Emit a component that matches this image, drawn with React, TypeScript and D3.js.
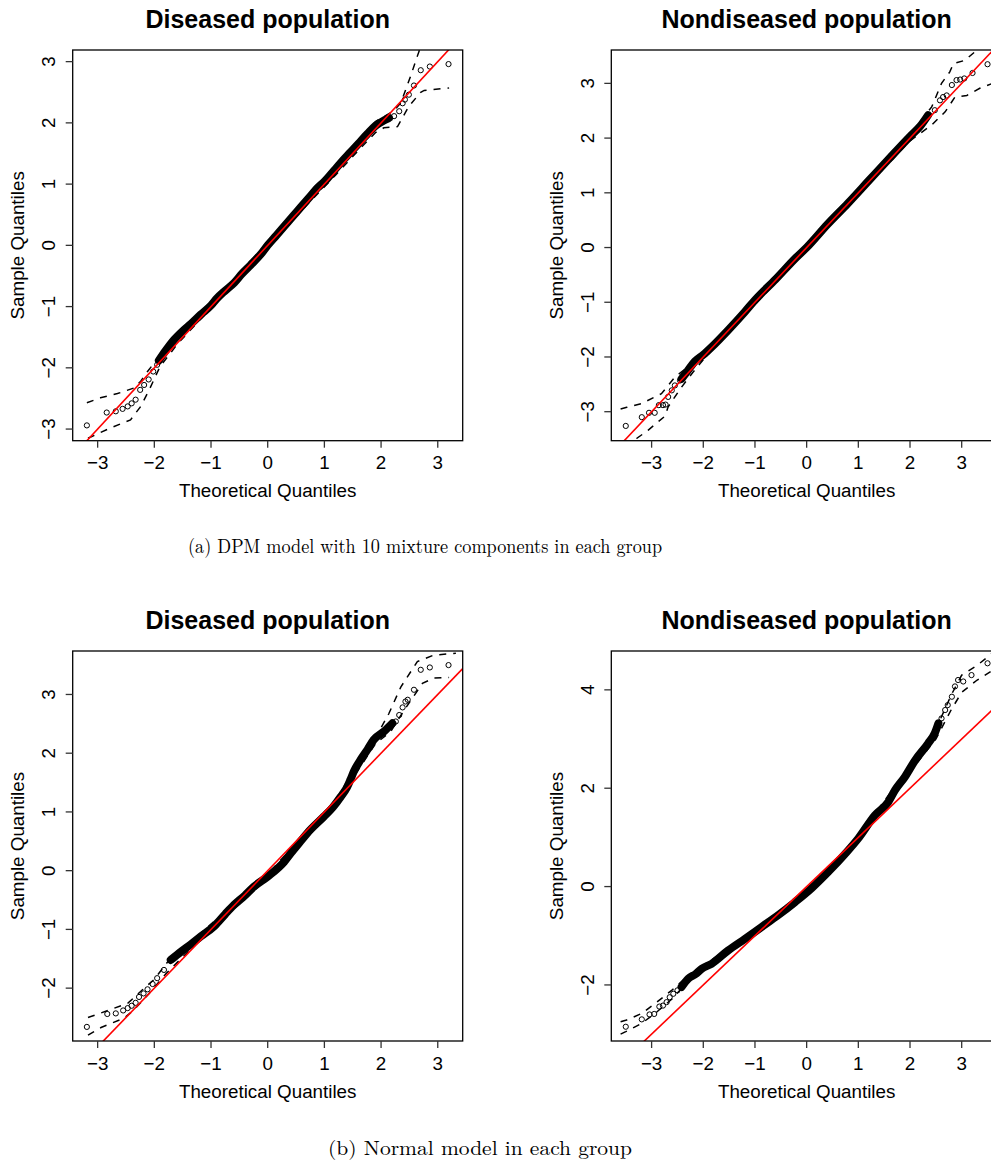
import React from "react";
import * as d3 from "d3";

// ---------- data ----------
// Panel A: DPM model, Diseased population
const dpmDiseasedTail: [number, number][] = [
  [-3.19, -2.94], [-2.84, -2.73], [-2.68, -2.71], [-2.56, -2.67], [-2.47, -2.63], [-2.40, -2.58],
  [-2.33, -2.52], [-2.25, -2.36], [-2.18, -2.28], [-2.10, -2.19], [-2.02, -2.06], [-1.95, -1.95],
  [-1.89, -1.84],
  [2.14, 2.08], [2.23, 2.11], [2.32, 2.19], [2.38, 2.32], [2.42, 2.38], [2.49, 2.46], [2.58, 2.61],
  [2.70, 2.86], [2.86, 2.92], [3.19, 2.96],
];
const dpmDiseasedBand: [number, number][] = [
  [-1.92, -1.88], [-1.80, -1.72], [-1.65, -1.54], [-1.50, -1.40], [-1.35, -1.28], [-1.18, -1.13],
  [-1.0, -0.98], [-0.89, -0.86], [-0.75, -0.74], [-0.59, -0.61], [-0.45, -0.46], [-0.30, -0.32],
  [-0.10, -0.12], [0.0, 0.0], [0.15, 0.16], [0.29, 0.31], [0.45, 0.48], [0.58, 0.62], [0.75, 0.80],
  [0.88, 0.94], [1.0, 1.04], [1.17, 1.22], [1.30, 1.36], [1.46, 1.52], [1.60, 1.66], [1.76, 1.82],
  [1.90, 1.95], [2.05, 2.04], [2.14, 2.08],
];
const dpmDiseasedEnvUpper: [number, number][] = [
  [-3.19, -2.57], [-2.95, -2.49], [-2.65, -2.42], [-2.36, -2.33], [-2.24, -2.22], [-2.12, -2.06],
  [-1.9, -1.8], [-1.6, -1.47], [-1.2, -1.1], [-0.6, -0.56], [0, 0.05], [0.6, 0.66], [1.2, 1.27],
  [1.6, 1.71], [1.9, 2.02], [2.23, 2.2], [2.35, 2.33], [2.52, 2.76], [2.64, 3.09], [2.72, 3.3],
];
const dpmDiseasedEnvLower: [number, number][] = [
  [-3.17, -3.15], [-2.77, -2.98], [-2.42, -2.85], [-2.24, -2.63], [-2.09, -2.36], [-1.9, -1.98],
  [-1.6, -1.62], [-1.2, -1.22], [-0.6, -0.66], [0, -0.05], [0.6, 0.57], [1.2, 1.15], [1.6, 1.55],
  [1.9, 1.84], [2.05, 1.92], [2.29, 1.94], [2.49, 2.27], [2.7, 2.5], [2.76, 2.53], [3.20, 2.57],
];

// Panel B: DPM model, Nondiseased population
const dpmNondiseasedTail: [number, number][] = [
  [-3.50, -3.26], [-3.19, -3.10], [-3.05, -3.02], [-2.94, -3.02], [-2.86, -2.88], [-2.78, -2.88],
  [-2.73, -2.87], [-2.68, -2.73], [-2.61, -2.61], [-2.55, -2.52], [-2.45, -2.43],
  [2.35, 2.42], [2.48, 2.51], [2.58, 2.69], [2.64, 2.75], [2.71, 2.78], [2.81, 2.97], [2.90, 3.06],
  [2.97, 3.07], [3.05, 3.09], [3.21, 3.19], [3.50, 3.35],
];
const dpmNondiseasedBand: [number, number][] = [
  [-2.42, -2.40], [-2.30, -2.25], [-2.16, -2.08], [-2.0, -1.96], [-1.84, -1.82], [-1.52, -1.51],
  [-1.2, -1.18], [-1.0, -0.96], [-0.6, -0.58], [-0.2, -0.18], [0, 0.0], [0.4, 0.42], [0.8, 0.81],
  [1.2, 1.22], [1.6, 1.63], [2.0, 2.03], [2.2, 2.22], [2.35, 2.42],
];
const dpmNondiseasedEnvUpper: [number, number][] = [
  [-3.6, -2.95], [-3.48, -2.92], [-3.19, -2.85], [-2.81, -2.67], [-2.55, -2.37], [-2.3, -2.18],
  [-2.0, -1.92], [-1.0, -0.95], [0, 0.04], [1, 1.04], [2, 2.06], [2.42, 2.57], [2.61, 3.0],
  [2.77, 3.21], [2.84, 3.36], [3.06, 3.42], [3.26, 3.58], [3.4, 3.7],
];
const dpmNondiseasedEnvLower: [number, number][] = [
  [-3.45, -3.7], [-3.29, -3.49], [-3.07, -3.34], [-2.74, -3.08], [-2.68, -2.91], [-2.42, -2.55],
  [-2.2, -2.28], [-2.0, -2.05], [-1, -1.04], [0, -0.04], [1, 0.96], [2, 1.95], [2.42, 2.24],
  [2.68, 2.48], [2.87, 2.75], [3.10, 2.78], [3.35, 2.91], [3.6, 3.0],
];

// Panel C: Normal model, Diseased population
const normDiseasedTail: [number, number][] = [
  [-3.19, -2.66], [-2.83, -2.44], [-2.68, -2.43], [-2.55, -2.38], [-2.47, -2.34], [-2.40, -2.30],
  [-2.33, -2.25], [-2.27, -2.15], [-2.19, -2.09], [-2.12, -2.02], [-2.03, -1.93], [-1.95, -1.83],
  [-1.83, -1.69], [-1.71, -1.52],
  [2.26, 2.54], [2.32, 2.65], [2.38, 2.78], [2.43, 2.88], [2.47, 2.91], [2.58, 3.08], [2.70, 3.42],
  [2.86, 3.46], [3.19, 3.50],
];
const normDiseasedBand: [number, number][] = [
  [-1.71, -1.52], [-1.53, -1.38], [-1.35, -1.25], [-1.18, -1.12], [-0.95, -0.95], [-0.75, -0.74],
  [-0.59, -0.58], [-0.4, -0.42], [-0.24, -0.27], [0, -0.10], [0.29, 0.15], [0.41, 0.30],
  [0.58, 0.50], [0.70, 0.64], [0.99, 0.92], [1.15, 1.08], [1.29, 1.26], [1.40, 1.42], [1.46, 1.55],
  [1.52, 1.69], [1.64, 1.89], [1.76, 2.06], [1.87, 2.23], [2.05, 2.37], [2.20, 2.51],
];
const normDiseasedEnvUpper: [number, number][] = [
  [-3.17, -2.50], [-2.76, -2.36], [-2.47, -2.26], [-2.2, -2.02], [-2.0, -1.85], [-1.7, -1.47],
  [-1.2, -1.08], [0, -0.06], [1.2, 1.2], [1.6, 1.84], [1.9, 2.26], [2.14, 2.68], [2.35, 3.13],
  [2.64, 3.56], [2.93, 3.67], [3.32, 3.70],
];
const normDiseasedEnvLower: [number, number][] = [
  [-3.17, -2.80], [-2.94, -2.67], [-2.53, -2.51], [-2.36, -2.37], [-2.1, -2.1], [-1.8, -1.76],
  [-1.2, -1.18], [0, -0.13], [1.2, 1.14], [1.6, 1.72], [1.9, 2.16], [2.17, 2.37], [2.4, 2.72],
  [2.73, 3.19], [2.93, 3.28], [3.20, 3.29],
];

// Panel D: Normal model, Nondiseased population
const normNondiseasedTail: [number, number][] = [
  [-3.50, -2.85], [-3.19, -2.70], [-3.04, -2.60], [-2.95, -2.59], [-2.85, -2.44], [-2.78, -2.42],
  [-2.71, -2.35], [-2.65, -2.25], [-2.58, -2.18], [-2.50, -2.11], [-2.42, -2.04],
  [2.55, 3.32], [2.61, 3.42], [2.68, 3.59], [2.73, 3.69], [2.81, 3.86], [2.87, 4.07], [2.93, 4.20],
  [3.03, 4.17], [3.19, 4.30], [3.50, 4.54],
];
const normNondiseasedBand: [number, number][] = [
  [-2.42, -2.04], [-2.29, -1.87], [-2.15, -1.78], [-2.03, -1.67], [-1.84, -1.57], [-1.52, -1.30],
  [-1.19, -1.06], [-0.87, -0.82], [-0.55, -0.58], [-0.23, -0.32], [0.10, -0.03], [0.42, 0.30],
  [0.74, 0.66], [1.0, 0.98], [1.32, 1.45], [1.58, 1.72], [1.71, 1.96], [1.90, 2.23], [2.10, 2.57],
  [2.35, 2.91], [2.48, 3.12], [2.55, 3.32],
];
const normNondiseasedEnvUpper: [number, number][] = [
  [-3.6, -2.75], [-3.5, -2.72], [-3.19, -2.58], [-2.9, -2.35], [-2.6, -2.1], [-2.3, -1.82],
  [-2.0, -1.6], [-1.0, -0.92], [0, -0.1], [1, 1.02], [2, 2.45], [2.5, 3.2], [2.8, 3.9],
  [3.0, 4.3], [3.3, 4.5], [3.6, 4.75],
];
const normNondiseasedEnvLower: [number, number][] = [
  [-3.6, -3.0], [-3.5, -2.95], [-3.19, -2.78], [-2.9, -2.55], [-2.6, -2.28], [-2.3, -1.93],
  [-2.0, -1.7], [-1.0, -0.98], [0, -0.16], [1, 0.94], [2, 2.33], [2.5, 3.0], [2.8, 3.6],
  [3.0, 3.95], [3.3, 4.2], [3.6, 4.4],
];

// reference line y = intercept + slope * x
const refIntercepts = [0, 0, 0, 0];
const refSlopes = [1, 1, 1, 1];

const xTicks = [-3, -2, -1, 0, 1, 2, 3];
const yTicksA = [-3, -2, -1, 0, 1, 2, 3];
const yTicksB = [-3, -2, -1, 0, 1, 2, 3];
const yTicksC = [-2, -1, 0, 1, 2, 3];
const yTicksD = [-2, 0, 2, 4];

const titles = ["Diseased population", "Nondiseased population", "Diseased population", "Nondiseased population"];
const xLabel = "Theoretical Quantiles";
const yLabel = "Sample Quantiles";
const captionA = "(a) DPM model with 10 mixture components in each group";
const captionB = "(b) Normal model in each group";

// ---------- layout ----------
const W = 991;
const H = 1162;
const SANS = "'Liberation Sans', Arial, Helvetica, sans-serif";
const SERIF = "'Latin Modern Roman', 'Liberation Serif', 'Times New Roman', serif";

type Panel = {
  id: string;
  box: [number, number, number, number]; // x0, y0, x1, y1
  xDomain: [number, number];
  yDomain: [number, number];
  yTicks: number[];
  title: string;
  tail: [number, number][];
  band: [number, number][];
  envU: [number, number][];
  envL: [number, number][];
  a: number;
  b: number;
};

const panels: Panel[] = [
  {
    id: "pa", box: [72.7, 50, 462.7, 440.7], xDomain: [-3.44, 3.44], yDomain: [-3.19, 3.19],
    yTicks: yTicksA, title: titles[0], tail: dpmDiseasedTail, band: dpmDiseasedBand,
    envU: dpmDiseasedEnvUpper, envL: dpmDiseasedEnvLower, a: refIntercepts[0], b: refSlopes[0],
  },
  {
    id: "pb", box: [611.3, 50, 1002, 440.7], xDomain: [-3.78, 3.78], yDomain: [-3.53, 3.61],
    yTicks: yTicksB, title: titles[1], tail: dpmNondiseasedTail, band: dpmNondiseasedBand,
    envU: dpmNondiseasedEnvUpper, envL: dpmNondiseasedEnvLower, a: refIntercepts[1], b: refSlopes[1],
  },
  {
    id: "pc", box: [72.7, 651, 462.7, 1041], xDomain: [-3.44, 3.44], yDomain: [-2.9, 3.74],
    yTicks: yTicksC, title: titles[2], tail: normDiseasedTail, band: normDiseasedBand,
    envU: normDiseasedEnvUpper, envL: normDiseasedEnvLower, a: refIntercepts[2], b: refSlopes[2],
  },
  {
    id: "pd", box: [611.3, 651, 1002, 1041], xDomain: [-3.78, 3.78], yDomain: [-3.14, 4.79],
    yTicks: yTicksD, title: titles[3], tail: normNondiseasedTail, band: normNondiseasedBand,
    envU: normNondiseasedEnvUpper, envL: normNondiseasedEnvLower, a: refIntercepts[3], b: refSlopes[3],
  },
];

const fmt = (v: number) => (v < 0 ? "\u2212" + Math.abs(v) : String(v));

function QQPanel({ p }: { p: Panel }) {
  const [x0, y0, x1, y1] = p.box;
  const xs = d3.scaleLinear().domain(p.xDomain).range([x0, x1]);
  const ys = d3.scaleLinear().domain(p.yDomain).range([y1, y0]);
  const line = d3
    .line<[number, number]>()
    .x((d) => xs(d[0]))
    .y((d) => ys(d[1]));
  const smooth = d3
    .line<[number, number]>()
    .x((d) => xs(d[0]))
    .y((d) => ys(d[1]))
    .curve(d3.curveMonotoneX);
  const cx = (x0 + x1) / 2;
  const refPts: [number, number][] = p.xDomain.map((x) => [x, p.a + p.b * x]) as [number, number][];
  const tickLen = 7;
  return (
    <g>
      <defs>
        <clipPath id={`clip-${p.id}`}>
          <rect x={x0} y={y0} width={x1 - x0} height={y1 - y0} />
        </clipPath>
      </defs>
      <text x={cx} y={y0 - 22.5} textAnchor="middle" fontFamily={SANS} fontWeight="bold" fontSize={25} fill="#000">
        {p.title}
      </text>
      <g clipPath={`url(#clip-${p.id})`}>
        <path d={smooth(p.band) || ""} fill="none" stroke="#000" strokeWidth={8} strokeLinecap="round" strokeLinejoin="round" />
        {p.tail.map((d, i) => (
          <circle key={i} cx={xs(d[0])} cy={ys(d[1])} r={2.6} fill="none" stroke="#000" strokeWidth={1} />
        ))}
        <path d={line(p.envU) || ""} fill="none" stroke="#000" strokeWidth={1.5} strokeDasharray="7,7" />
        <path d={line(p.envL) || ""} fill="none" stroke="#000" strokeWidth={1.5} strokeDasharray="7,7" />
        <path d={line(refPts) || ""} fill="none" stroke="#ff0000" strokeWidth={1.6} />
      </g>
      <rect x={x0} y={y0} width={x1 - x0} height={y1 - y0} fill="none" stroke="#000" strokeWidth={1.3} />
      {/* x axis */}
      {xTicks.map((t) => (
        <g key={`x${t}`}>
          <line x1={xs(t)} x2={xs(t)} y1={y1} y2={y1 + tickLen} stroke="#333" strokeWidth={1.3} />
          <text x={xs(t)} y={y1 + 28.5} textAnchor="middle" fontFamily={SANS} fontSize={18.8} fill="#000">
            {fmt(t)}
          </text>
        </g>
      ))}
      <text x={cx} y={y1 + 56.5} textAnchor="middle" fontFamily={SANS} fontSize={18.8} fill="#000">
        {xLabel}
      </text>
      {/* y axis */}
      {p.yTicks.map((t) => (
        <g key={`y${t}`}>
          <line x1={x0 - tickLen} x2={x0} y1={ys(t)} y2={ys(t)} stroke="#333" strokeWidth={1.3} />
          <text
            transform={`translate(${x0 - 17.7},${ys(t)}) rotate(-90)`}
            textAnchor="middle"
            fontFamily={SANS}
            fontSize={18.8}
            fill="#000"
          >
            {fmt(t)}
          </text>
        </g>
      ))}
      <text
        transform={`translate(${x0 - 48.3},${(y0 + y1) / 2}) rotate(-90)`}
        textAnchor="middle"
        fontFamily={SANS}
        fontSize={18.8}
        fill="#000"
      >
        {yLabel}
      </text>
    </g>
  );
}

export default function App() {
  return (
    <svg
      width={W}
      height={H}
      viewBox={`0 0 ${W} ${H}`}
      style={{ position: "absolute", left: 0, top: 0, background: "#fff" }}
    >
      <rect x={0} y={0} width={W} height={H} fill="#fff" />
      {panels.map((p) => (
        <QQPanel key={p.id} p={p} />
      ))}
      <text x={425} y={553} textAnchor="middle" fontFamily={SERIF} fontSize={20} fill="#000"
        textLength={474} lengthAdjust="spacingAndGlyphs">
        {captionA}
      </text>
      <text x={480} y={1155} textAnchor="middle" fontFamily={SERIF} fontSize={20} fill="#000"
        textLength={304} lengthAdjust="spacingAndGlyphs">
        {captionB}
      </text>
    </svg>
  );
}
